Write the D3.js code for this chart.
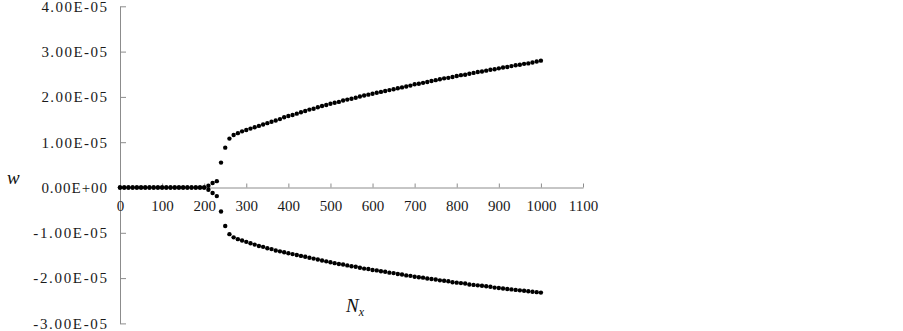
<!DOCTYPE html>
<html>
<head>
<meta charset="utf-8">
<script src="https://cdn.jsdelivr.net/npm/d3@7"></script>
<style>
body{margin:0;background:#fff}
svg text{font-family:"Liberation Serif","DejaVu Serif",serif}
</style>
</head>
<body>
<div id="chart"></div>
<script>
const nx=[0,10,20,30,40,50,60,70,80,90,100,110,120,130,140,150,160,170,180,190,200,
210,220,230,240,250,260,270,280,290,300,310,320,330,340,350,360,370,380,390,400,
410,420,430,440,450,460,470,480,490,500,510,520,530,540,550,560,570,580,590,600,
610,620,630,640,650,660,670,680,690,700,710,720,730,740,750,760,770,780,790,800,
810,820,830,840,850,860,870,880,890,900,910,920,930,940,950,960,970,980,990,1000]

// upper branch, units of 1e-5
const upper=[0,0,0,0,0,0,0,0,0,0,0,0,0,0,0,0,0,0,0,0,0,
0.04,0.10,0.14,0.55,0.88,1.08,1.16,1.20,1.24,1.27,1.30,1.33,1.36,1.39,1.42,1.45,1.48,1.51,1.55,1.58,
1.60,1.63,1.66,1.69,1.72,1.74,1.77,1.80,1.82,1.85,1.87,1.89,1.92,1.94,1.96,1.98,2.01,2.03,2.05,2.07,
2.09,2.11,2.13,2.15,2.17,2.19,2.21,2.23,2.25,2.28,2.29,2.31,2.33,2.35,2.37,2.39,2.41,2.42,2.44,2.46,
2.48,2.49,2.51,2.53,2.55,2.56,2.58,2.60,2.61,2.63,2.65,2.66,2.68,2.70,2.71,2.73,2.74,2.76,2.78,2.80]

// lower branch, units of 1e-5
const lower=[0,0,0,0,0,0,0,0,0,0,0,0,0,0,0,0,0,0,0,0,0,
-0.05,-0.12,-0.19,-0.53,-0.85,-1.03,-1.10,-1.14,-1.17,-1.20,-1.23,-1.26,-1.29,-1.31,-1.34,-1.36,-1.39,-1.41,-1.43,-1.45,
-1.47,-1.49,-1.51,-1.53,-1.55,-1.57,-1.59,-1.61,-1.63,-1.65,-1.67,-1.69,-1.70,-1.72,-1.74,-1.75,-1.77,-1.79,-1.80,-1.82,
-1.83,-1.85,-1.86,-1.88,-1.89,-1.91,-1.92,-1.94,-1.95,-1.97,-1.98,-1.99,-2.01,-2.02,-2.03,-2.05,-2.06,-2.07,-2.09,-2.10,
-2.11,-2.12,-2.14,-2.15,-2.16,-2.17,-2.18,-2.19,-2.21,-2.22,-2.23,-2.24,-2.25,-2.26,-2.27,-2.28,-2.29,-2.30,-2.31,-2.32]

const xTicks=[0,100,200,300,400,500,600,700,800,900,1000,1100]
const yTicks=[4e-5,3e-5,2e-5,1e-5,0,-1e-5,-2e-5,-3e-5]
const yLabels=["4.00E-05","3.00E-05","2.00E-05","1.00E-05","0.00E+00","-1.00E-05","-2.00E-05","-3.00E-05"]

const width=903, height=331

const svg=d3.select("#chart").append("svg")
  .attr("width",width)
  .attr("height",height)

const x=d3.scaleLinear().domain([0,1100]).range([120,583])
const y=d3.scaleLinear().domain([-3e-5,4e-5]).range([323.4,6.3])

// y axis, ticks point right
const yAxis=svg.append("g")
  .attr("transform","translate("+x(0)+",0)")
  .call(d3.axisLeft(y).tickValues(yTicks)
    .tickFormat((d,i)=>yLabels[i])
    .tickSizeInner(-6).tickSizeOuter(0).tickPadding(13))
yAxis.select(".domain").attr("stroke","#8c8c8c")
yAxis.selectAll(".tick line").attr("stroke","#8c8c8c")
yAxis.selectAll("text")
  .attr("fill","#1a1a1a").attr("font-size",15)
  .attr("textLength",(d,i)=>yLabels[i].length*8.2)
  .attr("lengthAdjust","spacing")

// x axis on zero line, ticks point up
const xAxis=svg.append("g")
  .attr("transform","translate(0,"+y(0)+")")
  .call(d3.axisBottom(x).tickValues(xTicks)
    .tickFormat(d=>String(d))
    .tickSizeInner(-4).tickSizeOuter(0).tickPadding(13))
xAxis.select(".domain").attr("stroke","#8c8c8c")
xAxis.selectAll(".tick line").attr("stroke","#8c8c8c")
xAxis.selectAll("text").attr("fill","#1a1a1a").attr("font-size",15)

const pts=[]
nx.forEach((n,i)=>{
  pts.push([n,upper[i]*1e-5])
  pts.push([n,lower[i]*1e-5])
})

svg.append("g")
  .selectAll("circle")
  .data(pts)
  .enter()
  .append("circle")
  .attr("cx",d=>x(d[0]))
  .attr("cy",d=>y(d[1]))
  .attr("r",2.2)
  .attr("fill","#000")

// axis titles
svg.append("text")
  .attr("x",7).attr("y",184)
  .attr("font-size",19).attr("font-style","italic")
  .attr("fill","#111")
  .text("w")

const nt=svg.append("text")
  .attr("x",346).attr("y",312)
  .attr("font-size",19).attr("font-style","italic")
  .attr("fill","#111")
nt.append("tspan").text("N")
nt.append("tspan").attr("font-size",12).attr("dy",4).text("x")
</script>
</body>
</html>
